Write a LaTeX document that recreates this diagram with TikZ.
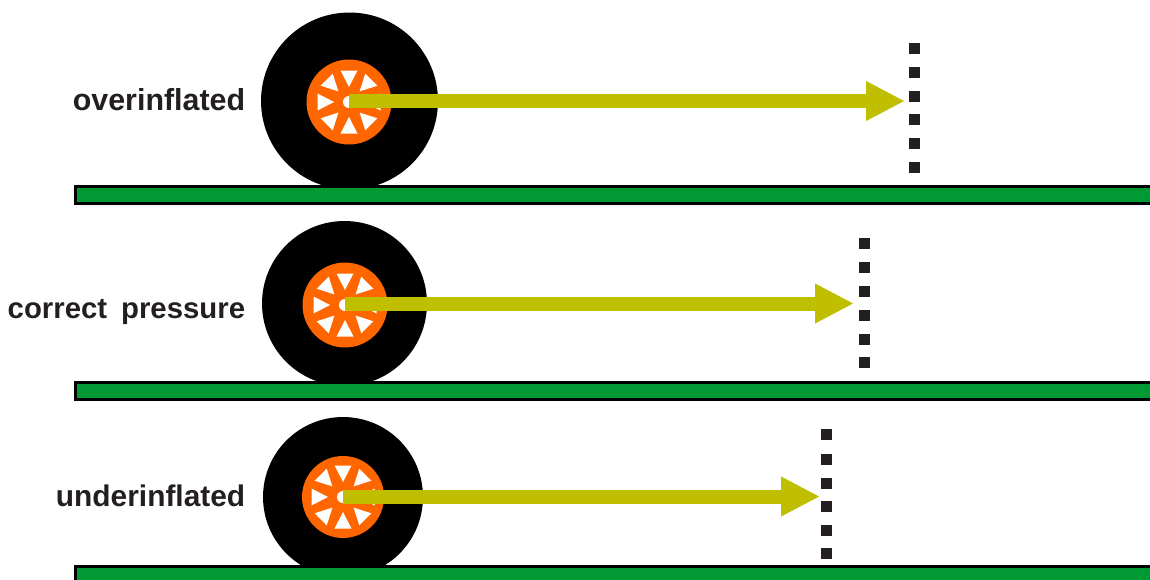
\documentclass[tikz,border=0pt]{standalone}
\usepackage{fontspec}
\setmainfont{Liberation Sans}
\usepackage{xcolor}
\usetikzlibrary{arrows.meta}
\definecolor{cGround}{HTML}{009933}
\definecolor{cRim}{HTML}{FF6600}
\definecolor{cArrow}{HTML}{BFBF00}
\definecolor{cMark}{HTML}{231F20}

\begin{document}
\begin{tikzpicture}[
  x=0.02cm, y=-0.02cm,
  every node/.style={font=\fontsize{17}{20}\selectfont\bfseries},
  tyre/.style={circle, fill=black, inner sep=0pt},
  rim/.style={circle, fill=cRim, inner sep=0pt},
  hub/.style={circle, fill=white, inner sep=0pt, minimum size=0.24cm},
  ground/.style={draw=black, fill=cGround, line width=0.06cm},
  dotmark/.style={fill=cMark, inner sep=0pt, minimum size=0.22cm},
  tyrelabel/.style={text=cMark, anchor=base east, inner sep=0pt},
  arr/.style={-{Triangle[length=0.78cm, width=0.74cm]}, draw=cArrow, line width=0.28cm},
]
  \clip (0,0) rectangle (1150,579);

  \node[tyre, minimum size=3.54cm] (tyre1) at (349.5,101) {};
  \node[tyre, minimum size=3.30cm] (tyre2) at (344.5,303.5) {};
  \node[tyre, minimum size=3.20cm] (tyre3) at (343,497) {};

  \node[rim, minimum size=1.70cm] (rim1) at (349,102) {};
  \node[rim, minimum size=1.70cm] (rim2) at (345,305) {};
  \node[rim, minimum size=1.64cm] (rim3) at (343,497) {};

  % spoke windows
  \foreach \name in {rim1,rim2,rim3}
    \foreach \a in {0,45,...,315}
      \fill[white, shift={(\name.center)}, rotate=\a] (-8.5,-31.5) -- (8.5,-31.5) -- (0,-15) -- cycle;

  \node[hub] (hub1) at (rim1) {};
  \node[hub] (hub2) at (rim2) {};
  \node[hub] (hub3) at (rim3) {};

  \draw[ground] (75.5,186.5) rectangle (1170,203.5);
  \draw[ground] (75.5,382.5) rectangle (1170,399.5);
  \draw[ground] (75.5,566.5) rectangle (1170,583.5);

  \node[tyrelabel, font=\fontsize{17.3}{20}\selectfont\bfseries] (over) at (245.5,110) {overinflated};
  \node[tyrelabel, font=\fontsize{16.7}{20}\selectfont\bfseries] (correct) at (245.5,318.5) {correct\hspace{0.2em} pressure};
  \node[tyrelabel] (under) at (245.5,506.5) {underinflated};

  \coordinate (tip1) at (905,101);
  \coordinate (tip2) at (854,303.5);
  \coordinate (tip3) at (820,496.5);
  \coordinate (tail1) at (349,101);
  \coordinate (tail2) at (345,303.5);
  \coordinate (tail3) at (343,496.5);

  \draw[arr] (tail1) -- (tip1);
  \draw[arr] (tail2) -- (tip2);
  \draw[arr] (tail3) -- (tip3);

  \foreach \y [count=\i] in {48,72,96,119.5,143,167}
    \node[dotmark] (markA\i) at (914.5,\y) {};
  \foreach \y [count=\i] in {243,267,291,315,339,362}
    \node[dotmark] (markB\i) at (864.5,\y) {};
  \foreach \y [count=\i] in {434,459,483,506,530,553}
    \node[dotmark] (markC\i) at (826,\y) {};
\end{tikzpicture}
\end{document}
